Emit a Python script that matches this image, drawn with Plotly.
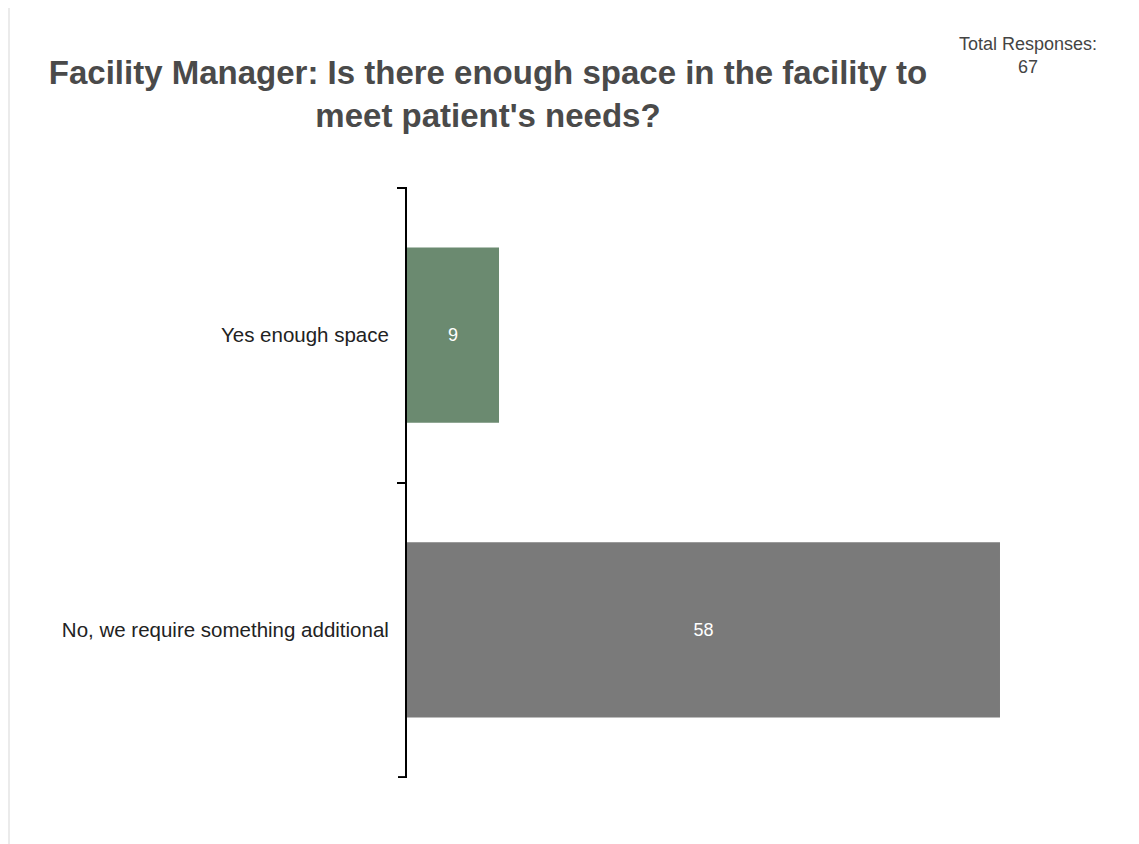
import plotly.graph_objects as go

# survey answers, top to bottom
answers = ["Yes enough space", "No, we require something additional"]
counts = [9, 58]
bar_colors = ["#6b8a70", "#7a7a7a"]
total_responses = 67

# page body adds an 8px margin, so the figure is a bit smaller than the window
W, H = 1131, 836
ML, MR, MT, MB = 399, 47, 179, 66
pw, ph = W - ML - MR, H - MT - MB


def px_x(x):
    return (x - ML) / pw


def px_y(y):
    return (H - MB - y) / ph


fig = go.Figure(
    go.Bar(
        y=answers, x=counts, orientation="h",
        marker=dict(color=bar_colors, line_width=0),
        text=[str(c) for c in counts], textposition="inside",
        insidetextanchor="middle",
        textfont=dict(color="white", size=18, family="Arial, Liberation Sans"),
        hoverinfo="skip",
    )
)

fig.update_layout(
    width=W, height=H,
    margin=dict(l=ML, r=MR, t=MT, b=MB),
    paper_bgcolor="white", plot_bgcolor="white",
    font=dict(family="Arial, Liberation Sans, sans-serif", color="#222222"),
    bargap=0.405, showlegend=False,
    title=dict(
        text="<b>Facility Manager: Is there enough space in the facility to<br>meet patient's needs?</b>",
        xref="container", x=480 / W, xanchor="center",
        yref="container", y=1 - 76 / H, yanchor="middle",
        font=dict(size=33, color="#4a4a4a"),
    ),
)

fig.update_xaxes(range=[0, total_responses], visible=False)
fig.update_yaxes(
    categoryorder="array", categoryarray=answers, range=[1.503, -0.503],
    tickson="boundaries", ticks="outside", ticklen=8, tickwidth=2, tickcolor="black",
    showline=True, linecolor="black", linewidth=2, showgrid=False,
    ticklabelstandoff=12, tickfont=dict(size=20.5, color="#222222"),
)

# closing tick at the bottom boundary (plotly only draws the leading ones)
fig.add_shape(type="line", xref="paper", yref="y", x0=px_x(ML - 9), x1=px_x(ML),
              y0=len(answers) - 0.5, y1=len(answers) - 0.5,
              line=dict(color="black", width=2))

fig.add_annotation(
    text="Total Responses:<br>67", xref="paper", yref="paper",
    x=px_x(1020), y=px_y(24), xanchor="center", yanchor="top",
    showarrow=False, font=dict(size=18, color="#444444"),
)

# grey page edge on the left of the card
fig.add_shape(type="rect", xref="paper", yref="paper", layer="below",
              x0=px_x(0), x1=px_x(2), y0=px_y(0), y1=px_y(H),
              fillcolor="#ebebeb", line_width=0)

fig.write_html("out.html")
